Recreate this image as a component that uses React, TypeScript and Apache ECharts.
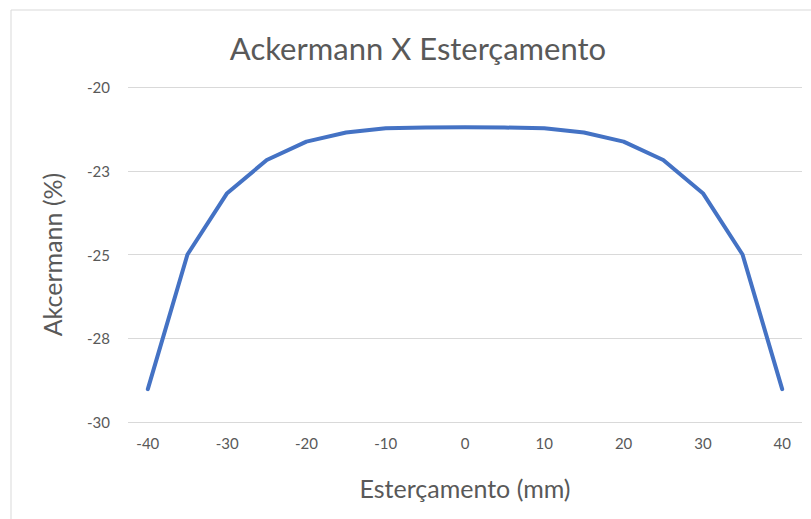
import React, { useEffect, useRef } from "react";
import * as echarts from "echarts";

const TITLE = "Ackermann X Esterçamento";
const X_NAME = "Esterçamento (mm)";
const Y_NAME = "Akcermann (%)";
const categories = ["-40", "-35", "-30", "-25", "-20", "-15", "-10", "-5", "0", "5", "10", "15", "20", "25", "30", "35", "40"];
const ackermann = [-29.02, -25.0, -23.17, -22.18, -21.63, -21.36, -21.23, -21.21, -21.2, -21.21, -21.23, -21.36, -21.63, -22.18, -23.17, -25.0, -29.02];
const yMin = -30;
const yMax = -20;
const yStep = 2.5;

const FONT = "Lato";
const GRAY = "#595959";

export default function App() {
  const ref = useRef<HTMLDivElement>(null);
  useEffect(() => {
    if (!ref.current) return;
    const chart = echarts.init(ref.current, null, { renderer: "svg" });
    chart.setOption({
      animation: false,
      backgroundColor: "#ffffff",
      graphic: [
        {
          type: "rect",
          shape: { x: 11, y: 10, width: 900, height: 600 },
          style: { fill: "none", stroke: "#d9d9d9", lineWidth: 1 },
          silent: true,
        },
      ],
      title: {
        text: TITLE,
        left: 413,
        top: 27,
        textAlign: "center",
        textStyle: { fontFamily: FONT, fontSize: 31, fontWeight: "normal", color: GRAY },
      },
      grid: { left: 128, right: 9, top: 87, bottom: 97 },
      xAxis: {
        type: "category",
        data: categories,
        boundaryGap: true,
        name: X_NAME,
        nameLocation: "middle",
        nameGap: 53,
        nameTextStyle: { fontFamily: FONT, fontSize: 25, color: GRAY },
        axisTick: { show: false },
        axisLine: { show: false },
        axisLabel: { interval: 1, margin: 13, fontFamily: FONT, fontSize: 15, color: GRAY },
      },
      yAxis: {
        type: "value",
        min: yMin,
        max: yMax,
        interval: yStep,
        name: Y_NAME,
        nameLocation: "middle",
        nameGap: 64,
        nameRotate: 90,
        nameTextStyle: { fontFamily: FONT, fontSize: 25, color: GRAY },
        axisLine: { show: false },
        axisTick: { show: false },
        axisLabel: {
          margin: 18,
          fontFamily: FONT,
          fontSize: 15,
          color: GRAY,
          formatter: (v: number) => String(Math.sign(v) * Math.round(Math.abs(v))),
        },
        splitLine: { lineStyle: { color: "#d9d9d9", width: 1 } },
      },
      series: [
        {
          type: "line",
          data: ackermann,
          symbol: "none",
          lineStyle: { color: "#4472C4", width: 4, join: "round", cap: "round" },
        },
      ],
    });
    return () => chart.dispose();
  }, []);
  return <div ref={ref} style={{ position: "fixed", left: 0, top: 0, width: 811, height: 519 }} />;
}
